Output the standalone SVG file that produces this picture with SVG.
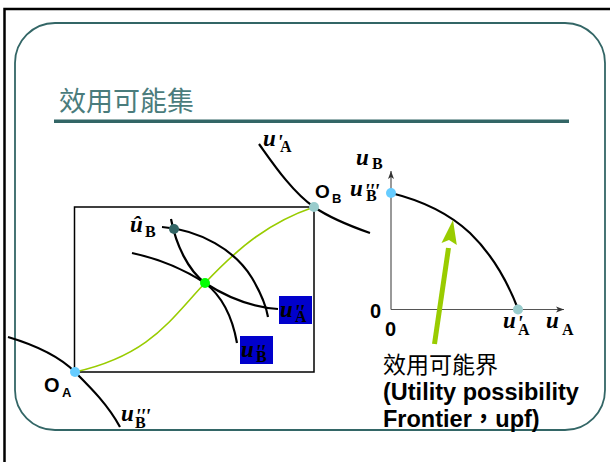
<svg xmlns="http://www.w3.org/2000/svg" width="610" height="462" viewBox="0 0 610 462">
<defs>
<style>
.mi{font-family:"Liberation Serif",serif;font-style:italic;font-weight:bold;font-size:23px;fill:#000}
.pr{font-family:"Liberation Serif",serif;font-style:italic;font-weight:bold;font-size:21px;letter-spacing:-1px;fill:#000}
.sb{font-family:"Liberation Serif",serif;font-weight:bold;font-size:16px;fill:#000}
.O{font-family:"Liberation Sans",Arial,sans-serif;font-weight:bold;fill:#000}
.cv{fill:none;stroke:#000;stroke-width:2.2}
.cjk{font-family:"Noto Sans CJK TC","Noto Sans CJK SC",sans-serif}
.lb{font-family:"Liberation Sans",Arial,"Noto Sans CJK TC",sans-serif;font-weight:bold;font-size:23.5px;fill:#000}
.box{fill:#0000CC}
</style>
<marker id="ah" markerWidth="10" markerHeight="8" refX="8" refY="4" orient="auto" markerUnits="userSpaceOnUse">
<path d="M0,1 L8,4 L0,7 L2,4 z" fill="#333"/>
</marker>
</defs>
<rect width="610" height="462" fill="#fff"/>
<path d="M4.5,462 V9 H612" fill="none" stroke="#000" stroke-width="2.5"/>
<rect x="15" y="23" width="590" height="407" rx="40" ry="40" fill="none" stroke="#336666" stroke-width="1.8"/>
<g id="title">
<text x="59" y="111" class="cjk" font-size="27" fill="#4A7C7C">效用可能集</text>
<rect x="54" y="119.5" width="515" height="3.5" fill="#336666"/>
</g>
<g id="edgeworth-box">
<rect x="74.5" y="207" width="239.5" height="165" fill="none" stroke="#000" stroke-width="1.5"/>
</g>
<g id="connectors">
<path id="contract-curve" d="M75,372 C150,355 170,320 205,283 C240,246 270,222 314,207" fill="none" stroke="#99CC00" stroke-width="1.6"/>
<path id="uA2" class="cv" d="M132,253 C160,259 185,270 205,283 C225,296 250,307 278,309"/>
<path id="uBhat" class="cv" d="M162,227 C200,230 235,250 252,278 C262,295 266,305 268,317"/>
<path id="uB2" class="cv" d="M171,219 C176,245 188,270 205,283 C222,296 232,315 237,343"/>
<path id="uA1" class="cv" d="M259,144 C272,162 292,192 314,207 C330,218 350,226 370,233"/>
<path id="uB3" class="cv" d="M8,337 C35,345 60,357 75,372 C92,389 108,405 120,427"/>
<line x1="391" y1="309.5" x2="391" y2="171" stroke="#555" stroke-width="1.2" marker-end="url(#ah)"/>
<line x1="391" y1="309.5" x2="564" y2="309.5" stroke="#555" stroke-width="1.2" marker-end="url(#ah)"/>
<path id="upf" class="cv" d="M391,193 Q440,205 470,233 Q500,262 518,309"/>
<line x1="434.5" y1="344" x2="448.5" y2="248" stroke="#99CC00" stroke-width="5"/>
<polygon points="453,220 441.5,243 449,240 456.8,245" fill="#99CC00"/>
</g>
<g id="points">
<circle cx="75" cy="372" r="5" fill="#66CCFF"/>
<circle cx="314" cy="207" r="5" fill="#99CCCC"/>
<circle cx="205" cy="283" r="5" fill="#00FF00"/>
<circle cx="174" cy="229" r="5" fill="#336666"/>
<circle cx="391" cy="193" r="5" fill="#66CCFF"/>
<circle cx="518" cy="309.5" r="5" fill="#99CCCC"/>
</g>
<g id="labels">
<text><tspan class="mi" x="263" y="146">u</tspan><tspan class="pr" x="277" y="149">'</tspan><tspan class="sb" x="280" y="152">A</tspan></text>
<text><tspan class="mi" x="130" y="232">û</tspan><tspan class="sb" x="145" y="237">B</tspan></text>
<rect class="box" x="279" y="296" width="33" height="28"/>
<text><tspan class="mi" x="280" y="317">u</tspan><tspan class="pr" x="294" y="319">''</tspan><tspan class="sb" x="295" y="322">A</tspan></text>
<rect class="box" x="240" y="336" width="33" height="28"/>
<text><tspan class="mi" x="241" y="357">u</tspan><tspan class="pr" x="255" y="359">''</tspan><tspan class="sb" x="256" y="362">B</tspan></text>
<text><tspan class="mi" x="121" y="421">u</tspan><tspan class="pr" x="135" y="423">'''</tspan><tspan class="sb" x="135" y="428">B</tspan></text>
<text><tspan class="O" font-size="20" x="44" y="392">O</tspan><tspan class="O" font-size="13" x="62" y="397">A</tspan></text>
<text><tspan class="O" font-size="19" x="315" y="198">O</tspan><tspan class="O" font-size="13" x="332" y="203">B</tspan></text>
<text><tspan class="mi" x="356" y="165">u</tspan><tspan class="sb" x="372" y="169">B</tspan></text>
<text><tspan class="mi" x="350" y="196">u</tspan><tspan class="pr" x="364" y="198">'''</tspan><tspan class="sb" x="366" y="201">B</tspan></text>
<text class="O" font-size="20" x="370" y="318">0</text>
<text class="O" font-size="20" x="385" y="336">0</text>
<text><tspan class="mi" x="503" y="328">u</tspan><tspan class="pr" x="517" y="330">'</tspan><tspan class="sb" x="518" y="335">A</tspan></text>
<text><tspan class="mi" x="546" y="328">u</tspan><tspan class="sb" x="562" y="335">A</tspan></text>
<text x="383" y="373" class="cjk" font-size="23" fill="#000">效用可能界</text>
<text class="lb" x="383" y="400">(Utility possibility</text>
<text class="lb" x="383" y="427">Frontier，upf)</text>
</g>
</svg>
